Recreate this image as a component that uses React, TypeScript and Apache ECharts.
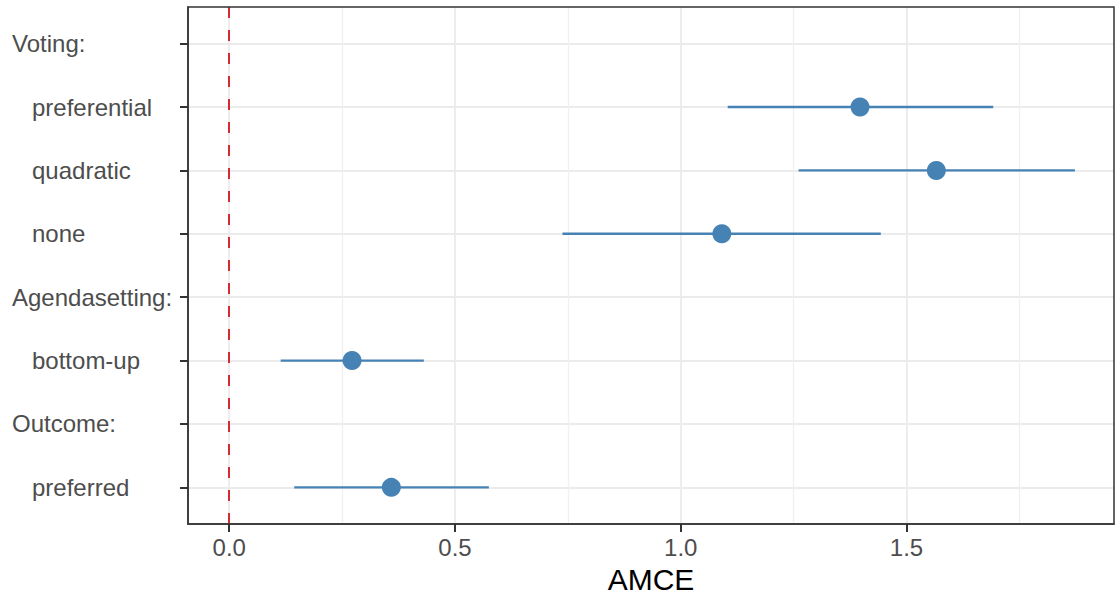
import React, { useEffect, useRef } from "react";
import * as echarts from "echarts";

// Row labels, top to bottom
const rowLabels: string[] = [
  "Voting:",
  "preferential",
  "quadratic",
  "none",
  "Agendasetting:",
  "bottom-up",
  "Outcome:",
  "preferred",
];
const headerRows: number[] = [0, 4, 6];

// Estimates with confidence intervals (row index, estimate, lower, upper)
const estRows: number[] = [1, 2, 3, 5, 7];
const estimates: number[] = [1.397, 1.566, 1.091, 0.272, 0.359];
const lowers: number[] = [1.104, 1.261, 0.738, 0.114, 0.144];
const uppers: number[] = [1.692, 1.873, 1.443, 0.431, 0.575];

const xTicks: number[] = [0, 0.5, 1, 1.5];
const xMinorTicks: number[] = [0.25, 0.75, 1.25, 1.75];
const yTicks: number[] = [0, 1, 2, 3, 4, 5, 6, 7];

export default function App() {
  const ref = useRef<HTMLDivElement>(null);
  useEffect(() => {
    if (!ref.current) return;
    const chart = echarts.init(ref.current, undefined, { renderer: "svg" });
    const grey = "#4D4D4D";
    const font = "Liberation Sans, Arial, Helvetica, sans-serif";
    const ciData = estRows.map((r, i) => [lowers[i], uppers[i], r]);
    const ptData = estRows.map((r, i) => [estimates[i], r]);
    chart.setOption({
      animation: false,
      backgroundColor: "#ffffff",
      grid: {
        left: 188,
        right: 2,
        top: 7,
        bottom: 75,
        containLabel: false,
        outerBoundsMode: "none",
        show: true,
        borderColor: "#333333",
        borderWidth: 1.5,
        backgroundColor: "transparent",
        z: 10,
      },
      xAxis: [
        {
          type: "value",
          min: -0.0913,
          max: 1.9595,
          name: "AMCE",
          nameLocation: "middle",
          nameGap: 40,
          nameTextStyle: { color: "#000000", fontSize: 30, fontFamily: font },
          axisLine: { show: true, onZero: false, lineStyle: { color: "#333333", width: 1.5 } },
          axisTick: { show: true, customValues: xTicks, length: 8, lineStyle: { color: "#333333", width: 2 } },
          axisLabel: {
            show: true,
            customValues: xTicks,
            formatter: (v: number) => v.toFixed(1),
            color: grey,
            fontSize: 24,
            fontFamily: font,
            margin: 11,
          },
          splitLine: { show: true, lineStyle: { color: "#EBEBEB", width: 1.8 } },
        },
        {
          type: "value",
          min: -0.0913,
          max: 1.9595,
          position: "bottom",
          axisLine: { show: false, onZero: false },
          axisTick: { show: false, customValues: xMinorTicks },
          axisLabel: { show: false, customValues: xMinorTicks },
          splitLine: { show: true, lineStyle: { color: "#F0F0F0", width: 1.3 } },
        },
      ],
      yAxis: {
        type: "value",
        inverse: true,
        min: -0.578,
        max: 7.578,
        axisLine: { show: true, onZero: false, lineStyle: { color: "#333333", width: 1.5 } },
        axisTick: { show: true, customValues: yTicks, length: 8, lineStyle: { color: "#333333", width: 2 } },
        axisLabel: {
          show: true,
          customValues: yTicks,
          align: "left",
          margin: 176,
          formatter: (v: number) => {
            const idx = Math.round(v);
            const name = rowLabels[idx] ?? "";
            return headerRows.includes(idx) ? `{h|${name}}` : `{i|${name}}`;
          },
          rich: {
            h: { color: grey, fontSize: 24, fontFamily: font },
            i: { color: grey, fontSize: 24, fontFamily: font, padding: [0, 0, 0, 20] },
          },
        },
        splitLine: { show: true, lineStyle: { color: "#EBEBEB", width: 1.8 } },
      },
      series: [
        {
          type: "line",
          data: [],
          silent: true,
          markLine: {
            silent: true,
            symbol: ["none", "none"],
            label: { show: false },
            lineStyle: { color: "#D42A33", width: 2, type: [11, 12] },
            data: [{ xAxis: 0 }],
          },
        },
        {
          type: "custom",
          silent: true,
          data: ciData,
          encode: { x: [0, 1], y: 2 },
          renderItem: (params: any, api: any) => {
            const p1 = api.coord([api.value(0), api.value(2)]);
            const p2 = api.coord([api.value(1), api.value(2)]);
            return {
              type: "line",
              shape: { x1: p1[0], y1: p1[1], x2: p2[0], y2: p2[1] },
              style: { stroke: "#4682B4", lineWidth: 2.4 },
            };
          },
          z: 3,
        },
        {
          type: "scatter",
          data: ptData,
          symbol: "circle",
          symbolSize: 19,
          itemStyle: { color: "#4682B4", opacity: 1 },
          z: 4,
        },
      ],
    });
    return () => chart.dispose();
  }, []);
  return <div ref={ref} style={{ width: 1116, height: 599, position: "absolute", left: 0, top: 0 }} />;
}
